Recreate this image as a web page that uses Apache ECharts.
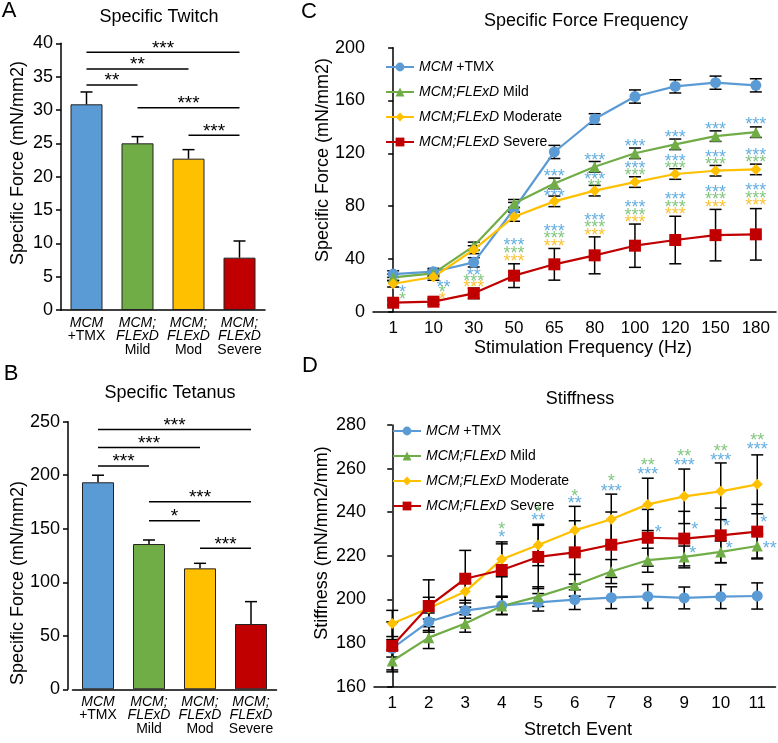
<!DOCTYPE html>
<html><head><meta charset="utf-8">
<script src="https://cdn.jsdelivr.net/npm/echarts@6/dist/echarts.min.js"></script>
<style>html,body{margin:0;padding:0;background:#fff}#c{width:778px;height:743px}</style>
</head><body><div id="c"></div>
<script>
// ---------- DATA ----------
const groupNames = ['MCM +TMX', 'MCM;FLExD Mild', 'MCM;FLExD Moderate', 'MCM;FLExD Severe'];
const barCategories = ['MCM +TMX', 'MCM; FLExD Mild', 'MCM; FLExD Mod', 'MCM; FLExD Severe'];

// Panel A: Specific Twitch
const twitchMean = [30.85, 25.0, 22.7, 7.85];
const twitchErr = [1.85, 1.0, 1.35, 2.5];
const twitchSig = [[0, 3, 38.65, '***'], [0, 2, 36.15, '**'], [0, 1, 33.75, '**'], [1, 3, 30.35, '***'], [2, 3, 26.2, '***']];
// Panel B: Specific Tetanus
const tetanusMean = [193.4, 135.7, 113.0, 61.0];
const tetanusErr = [6.6, 3.8, 4.7, 20.9];
const tetanusSig = [[0, 3, 242.8, '***'], [0, 2, 226.0, '***'], [0, 1, 208.6, '***'], [1, 3, 175.3, '***'], [1, 2, 157.5, '*'], [2, 3, 131.7, '***']];

// Panel C: Specific Force Frequency
const freqLabels = ['1', '10', '30', '50', '65', '80', '100', '120', '150', '180'];
const freqTMX = [28.5, 30.3, 37.4, 77.8, 121.0, 146.0, 163.0, 170.7, 173.5, 171.5];
const freqMild = [26.0, 29.0, 49.7, 82.0, 97.2, 109.8, 120.0, 126.8, 133.0, 136.0];
const freqMod = [21.2, 26.3, 47.0, 72.0, 83.6, 91.7, 98.2, 104.3, 106.8, 107.8];
const freqSev = [6.8, 7.6, 13.9, 27.3, 35.9, 42.7, 50.0, 54.3, 58.0, 58.6];
const freqTMXErr = [2.5, 2.5, 3.5, 5, 5, 4, 5, 5, 5, 5];
const freqMildErr = [2.5, 2.5, 3, 3, 4, 4, 4, 4, 4, 4];
const freqModErr = [2.5, 2.5, 3, 3.5, 4, 4, 4, 4, 4, 4];
const freqSevErr = [2, 2, 4, 9, 12, 14, 16.4, 18, 19.5, 19.5];
const freqStarsBlue = [[0.23, 16.9, '*'], [1.25, 20.7, '**'], [2, 30.3, '**'], [3, 52.5, '***'],
  [4, 105.3, '***'], [4, 90.2, '***'], [4, 63.6, '***'], [5, 117.4, '***'], [5, 102.8, '***'], [5, 72.0, '***'],
  [6, 128.0, '***'], [6, 111.1, '***'], [6, 81.6, '***'], [7, 134.3, '***'], [7, 116.7, '***'], [7, 87.6, '***'],
  [8, 140.9, '***'], [8, 119.4, '***'], [8, 92.9, '***'], [9, 144.7, '***'], [9, 121.2, '***'], [9, 94.2, '***']];
const freqStarsGreen = [[0.23, 11.9, '*'], [1.22, 16.9, '*'], [2, 25.8, '***'], [3, 46.7, '***'], [4, 58.1, '***'],
  [5, 97.2, '**'], [5, 66.4, '***'], [6, 105.6, '***'], [6, 75.8, '***'], [7, 111.1, '***'], [7, 81.8, '***'],
  [8, 113.9, '***'], [8, 87.4, '***'], [9, 115.7, '***'], [9, 88.6, '***']];
const freqStarsYellow = [[1.22, 11.9, '*'], [2, 21.0, '***'], [3, 40.9, '***'], [4, 52.3, '***'], [5, 60.6, '***'],
  [6, 70.2, '***'], [7, 76.3, '***'], [8, 81.6, '***'], [9, 82.8, '***']];

// Panel D: Stiffness
const stretchLabels = ['1', '2', '3', '4', '5', '6', '7', '8', '9', '10', '11'];
const stiffTMX = [177.6, 189.8, 194.9, 197.2, 198.7, 199.9, 200.8, 201.4, 200.7, 201.3, 201.6];
const stiffMild = [171.8, 182.5, 189.0, 197.0, 201.3, 206.5, 212.8, 218.0, 219.5, 221.8, 224.5];
const stiffMod = [189.0, 196.0, 203.6, 218.4, 225.0, 231.7, 236.8, 243.6, 247.3, 249.6, 252.8];
const stiffSev = [178.7, 197.0, 209.5, 213.5, 219.5, 221.6, 225.1, 228.3, 227.9, 229.4, 231.1];
const stiffTMXErr = [4, 4, 3.5, 4, 4, 4.5, 5, 5.5, 5, 5.5, 6];
const stiffMildErr = [5, 5, 4, 4, 4.5, 5, 5.5, 5.5, 5, 5, 5.5];
const stiffModErr = [6, 5, 4, 8, 9.5, 11, 11.5, 12, 12.5, 13, 13.5];
const stiffSevErr = [11, 12, 13, 12, 14.5, 14.5, 15, 13, 12.5, 12.5, 12.5];
const stiffStarsGreen = [[3, 233.7, '*'], [4, 241.3, '*'], [5, 249.0, '*'], [6, 255.6, '*'], [7, 262.8, '**'],
  [8, 267.3, '**'], [9, 269.3, '**'], [10, 274.7, '**']];
const stiffStarsBlue = [[3, 230.0, '*'], [4, 237.7, '**'], [5, 245.6, '**'], [6, 251.0, '***'], [7, 258.9, '***'],
  [8, 263.2, '***'], [9, 265.5, '***'], [10, 270.4, '***'], [7.29, 232.2, '*'], [8.29, 233.7, '*'], [8.23, 222.7, '*'],
  [9.16, 234.9, '*'], [9.23, 225.0, '*'], [10.18, 236.8, '*'], [10.34, 225.0, '**']];

// ---------- STYLE ----------
const fam = 'Liberation Sans, Arial, sans-serif';
const colors = ['#5B9BD5', '#70AD47', '#FFC000', '#C00000'];
const starBlue = '#3C9AD8', starGreen = '#62B85F', starYellow = '#F7B500';
const symbols = ['circle', 'triangle', 'diamond', 'rect'];
const symSizes = [11, 11, 11, 12];

const chart = echarts.init(document.getElementById('c'), null, {renderer: 'canvas'});

function barLabelFmt(v) {
  return v.split(' ').map(p => (/MCM|FLExD/.test(p) ? '{i|' + p + '}' : '{n|' + p + '}')).join('\n');
}
function legendFmt(name) {
  const k = name.lastIndexOf(' ');
  return '{i|' + name.slice(0, k) + '}' + name.slice(k);
}
const axisLineStyle = {color: '#000', width: 1.5};

function errRender(errs, cap, upOnly) {
  return function (params, api) {
    const i = api.value(0), m = api.value(1), e = errs[params.dataIndex];
    const t = api.coord([i, m + e]);
    const b = api.coord([i, upOnly ? m : m - e]);
    const st = {stroke: '#000', lineWidth: 1.5};
    const ch = [
      {type: 'line', shape: {x1: t[0], y1: t[1], x2: b[0], y2: b[1]}, style: st},
      {type: 'line', shape: {x1: t[0] - cap, y1: t[1], x2: t[0] + cap, y2: t[1]}, style: st}
    ];
    if (!upOnly) ch.push({type: 'line', shape: {x1: b[0] - cap, y1: b[1], x2: b[0] + cap, y2: b[1]}, style: st});
    return {type: 'group', children: ch};
  };
}
function sigRender(sig) {
  return function (params, api) {
    const s = sig[params.dataIndex];
    const p1 = api.coord([api.value(0), api.value(1)]);
    const p2 = api.coord([api.value(2), api.value(1)]);
    return {type: 'group', children: [
      {type: 'line', shape: {x1: p1[0], y1: p1[1], x2: p2[0], y2: p2[1]}, style: {stroke: '#000', lineWidth: 1.5}},
      {type: 'text', x: (p1[0] + p2[0]) / 2, y: p1[1] - 4,
        style: {text: s[3], fontSize: 19, fontFamily: fam, fill: '#000', align: 'center', verticalAlign: 'middle'}}
    ]};
  };
}
function barAxisX(gi, cats) {
  return {type: 'category', gridIndex: gi, data: cats,
    axisLine: {lineStyle: axisLineStyle}, axisTick: {alignWithLabel: true, length: 4, lineStyle: {color: '#000', width: 1.5}},
    axisLabel: {interval: 0, margin: 6, formatter: barLabelFmt, color: '#000',
      rich: {i: {fontStyle: 'italic', fontSize: 14, lineHeight: 13.5, fontFamily: fam, color: '#000'},
             n: {fontSize: 14, lineHeight: 13.5, fontFamily: fam, color: '#000'}}}};
}
function lineAxisX(gi, cats) {
  return {type: 'category', gridIndex: gi, data: cats,
    axisLine: {lineStyle: axisLineStyle}, axisTick: {alignWithLabel: true, interval: 0, length: 5, lineStyle: {color: '#000', width: 1.5}},
    axisLabel: {interval: 0, margin: 8, fontSize: 17, fontFamily: fam, color: '#000'}};
}
function valAxisY(gi, min, max, interval, offset) {
  return {type: 'value', gridIndex: gi, min: min, max: max, interval: interval, offset: offset || 0,
    axisLine: {show: true, lineStyle: axisLineStyle}, axisTick: {show: true, length: 5, lineStyle: {color: '#000', width: 1.5}},
    splitLine: {show: false},
    axisLabel: {margin: 8, fontSize: 18, fontFamily: fam, color: '#000'}};
}
function lineSeries(name, k, data, xi, yi) {
  return {type: 'line', name: name, xAxisIndex: xi, yAxisIndex: yi, data: data, z: 4,
    symbol: symbols[k], symbolSize: symSizes[k], showAllSymbol: true,
    lineStyle: {color: colors[k], width: 2.2}, itemStyle: {color: colors[k]}, silent: true};
}
function errSeries(means, errs, xi, yi, cap, upOnly) {
  return {type: 'custom', xAxisIndex: xi, yAxisIndex: yi, data: means.map((m, i) => [i, m]),
    renderItem: errRender(errs, cap, upOnly), z: 3, silent: true};
}
function starSeries(data, color, xi, yi) {
  return {type: 'scatter', xAxisIndex: xi, yAxisIndex: yi, data: data, symbolSize: 0, silent: true, z: 6,
    label: {show: true, position: 'inside', formatter: p => p.data[2], color: color, fontSize: 18, fontFamily: fam, offset: [0, 4]}};
}
function legendFor(left, top) {
  return {orient: 'vertical', left: left, top: top, itemWidth: 28, itemHeight: 11, itemGap: 11, padding: 0,
    data: groupNames, formatter: legendFmt, selectedMode: false,
    textStyle: {fontSize: 14, fontFamily: fam, color: '#000', rich: {i: {fontStyle: 'italic', fontSize: 14, fontFamily: fam, color: '#000'}}}};
}
function txt(x, y, s, size, rot) {
  return {type: 'text', x: x, y: y, rotation: rot || 0,
    style: {text: s, fontSize: size, fontFamily: fam, fill: '#000', align: 'center', verticalAlign: 'middle'}};
}

const option = {
  animation: false,
  backgroundColor: '#fff',
  grid: [
    {left: 61, top: 43.3, width: 204, height: 266.7, outerBoundsMode: 'none', containLabel: false},
    {left: 72.5, top: 421.7, width: 204, height: 267.6, outerBoundsMode: 'none', containLabel: false},
    {left: 373, top: 47.7, width: 403, height: 264, outerBoundsMode: 'none', containLabel: false},
    {left: 374, top: 425, width: 401.5, height: 261.7, outerBoundsMode: 'none', containLabel: false}
  ],
  xAxis: [
    barAxisX(0, barCategories),
    barAxisX(1, barCategories),
    lineAxisX(2, freqLabels),
    lineAxisX(3, stretchLabels),
    {type: 'value', gridIndex: 2, min: -0.5, max: 9.5, show: false},
    {type: 'value', gridIndex: 3, min: -0.5, max: 10.5, show: false}
  ],
  yAxis: [
    valAxisY(0, 0, 40, 5),
    valAxisY(1, 0, 250, 50, 4.5),
    valAxisY(2, 0, 200, 40),
    valAxisY(3, 160, 280, 20)
  ],
  legend: [legendFor(385, 60), legendFor(392, 424)],
  graphic: [
    txt(9, 11, 'A', 22), txt(11, 374, 'B', 22), txt(309, 12, 'C', 22), txt(310, 366, 'D', 22),
    txt(159, 17, 'Specific Twitch', 18), txt(170, 393, 'Specific Tetanus', 18),
    txt(586, 21, 'Specific Force Frequency', 18), txt(580, 399, 'Stiffness', 18),
    txt(18, 163, 'Specific Force (mN/mm2)', 18, Math.PI / 2),
    txt(18, 583, 'Specific Force (mN/mm2)', 18, Math.PI / 2),
    txt(323, 160, 'Specific Force (mN/mm2)', 18, Math.PI / 2),
    txt(322, 543, 'Stiffness (mN/mm2/mm)', 18, Math.PI / 2),
    txt(583, 348, 'Stimulation Frequency (Hz)', 18),
    txt(578, 730, 'Stretch Event', 18)
  ],
  series: [
    {type: 'bar', xAxisIndex: 0, yAxisIndex: 0, barWidth: 32, silent: true,
      data: twitchMean.map((v, i) => ({value: v, itemStyle: {color: colors[i], borderColor: '#222', borderWidth: 1}}))},
    errSeries(twitchMean, twitchErr, 0, 0, 6, true),
    {type: 'custom', xAxisIndex: 0, yAxisIndex: 0, data: twitchSig.map(s => [s[0], s[2], s[1]]),
      encode: {x: 0, y: 1}, renderItem: sigRender(twitchSig), silent: true, z: 5},
    {type: 'bar', xAxisIndex: 1, yAxisIndex: 1, barWidth: 32, silent: true,
      data: tetanusMean.map((v, i) => ({value: v, itemStyle: {color: colors[i], borderColor: '#222', borderWidth: 1}}))},
    errSeries(tetanusMean, tetanusErr, 1, 1, 6, true),
    {type: 'custom', xAxisIndex: 1, yAxisIndex: 1, data: tetanusSig.map(s => [s[0], s[2], s[1]]),
      encode: {x: 0, y: 1}, renderItem: sigRender(tetanusSig), silent: true, z: 5},

    errSeries(freqTMX, freqTMXErr, 2, 2, 6, false),
    errSeries(freqMild, freqMildErr, 2, 2, 6, false),
    errSeries(freqMod, freqModErr, 2, 2, 6, false),
    errSeries(freqSev, freqSevErr, 2, 2, 6, false),
    lineSeries(groupNames[0], 0, freqTMX, 2, 2),
    lineSeries(groupNames[1], 1, freqMild, 2, 2),
    lineSeries(groupNames[2], 2, freqMod, 2, 2),
    lineSeries(groupNames[3], 3, freqSev, 2, 2),
    starSeries(freqStarsBlue, starBlue, 4, 2),
    starSeries(freqStarsGreen, starGreen, 4, 2),
    starSeries(freqStarsYellow, starYellow, 4, 2),

    errSeries(stiffTMX, stiffTMXErr, 3, 3, 6, false),
    errSeries(stiffMild, stiffMildErr, 3, 3, 6, false),
    errSeries(stiffMod, stiffModErr, 3, 3, 6, false),
    errSeries(stiffSev, stiffSevErr, 3, 3, 6, false),
    lineSeries(groupNames[0], 0, stiffTMX, 3, 3),
    lineSeries(groupNames[1], 1, stiffMild, 3, 3),
    lineSeries(groupNames[2], 2, stiffMod, 3, 3),
    lineSeries(groupNames[3], 3, stiffSev, 3, 3),
    starSeries(stiffStarsBlue, starBlue, 5, 3),
    starSeries(stiffStarsGreen, starGreen, 5, 3)
  ]
};
chart.setOption(option);
</script>
</body></html>
